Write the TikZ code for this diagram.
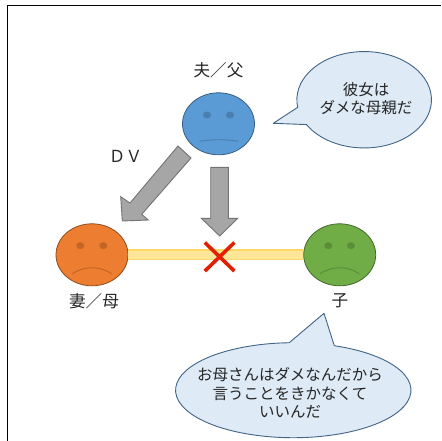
\documentclass[tikz,border=0pt]{standalone}
\usepackage{fontspec}
\setmainfont{Noto Sans CJK JP}
\usetikzlibrary{positioning,shapes.geometric,shapes.misc}
\definecolor{blueface}{RGB}{91,155,213}
\definecolor{orangeface}{RGB}{237,125,49}
\definecolor{greenface}{RGB}{112,173,71}
\definecolor{balloonfill}{RGB}{222,234,246}
\definecolor{balloonline}{RGB}{65,100,135}
\definecolor{bargold}{RGB}{255,217,102}
\definecolor{barfill}{RGB}{255,230,153}
\definecolor{crossred}{RGB}{224,32,0}
\tikzset{
    face/.style = {shape=ellipse, draw=#1!60!black, fill=#1, minimum width=72pt, minimum height=62pt, inner sep=0pt, line width=0.8pt},
    eye/.style = {shape=ellipse, fill=#1!82!black, minimum width=8pt, minimum height=7pt, inner sep=0pt},
    mouth/.style = {draw=#1!80!black, line width=0.9pt},
    nametag/.style = {font=\fontsize{16.6pt}{18pt}\selectfont, inner sep=0pt, text=black!85},
    balloon/.style = {draw=balloonline, fill=balloonfill, line width=0.9pt, line join=round},
    say/.style = {font=\fontsize{15.5pt}{18.7pt}\selectfont, align=center, inner sep=0pt, text=black!85},
    hitarrow/.style = {draw=black!55, fill=black!35, line width=0.9pt}
}
\begin{document}
\begin{tikzpicture}[x=1pt,y=-1pt]
    \useasboundingbox (0,0) rectangle (441,441);
    \draw[line width=1pt] (7,441) -- (7,5.5) -- (441,5.5);
    % faces
    \node[face=blueface] (father) at (218.5,123.8) {};
    \node[face=orangeface] (mother) at (92,254.8) {};
    \node[face=greenface] (child) at (339.7,254.8) {};
    \node[eye=blueface] (fathereyeL) at (207,115) {};
    \node[eye=blueface] (fathereyeR) at (230,115) {};
    \node[eye=orangeface] (mothereyeL) at (80.3,245.7) {};
    \node[eye=orangeface] (mothereyeR) at (103.3,245.7) {};
    \node[eye=greenface] (childeyeL) at (328.3,245.7) {};
    \node[eye=greenface] (childeyeR) at (351,245.7) {};
    \draw[mouth=blueface] (199.3,141.3) .. controls (212,139.2) and (225,139.2) .. (238,141.3);
    \draw[mouth=orangeface] (72.3,273.7) .. controls (85,265.7) and (99,265.7) .. (111.7,273.7);
    \draw[mouth=greenface] (320,273.7) .. controls (333,265.7) and (347,265.7) .. (359.3,273.7);
    % names
    \node[nametag, above=14pt of father] (fathername) {夫／父};
    \node[nametag] (mothername) at (94,301) {妻／母};
    \node[nametag] (childname) at (340,301) {子};
    \node[nametag] (dv) at (125.5,156) {ＤＶ};
    % bond between mother and child
    \draw[draw=bargold, double=barfill, line width=1.6pt, double distance=7.8pt] (mother) -- (child);
    \node[cross out, draw=crossred, line width=3.6pt, minimum width=26pt, minimum height=25pt, inner sep=0pt] (cut) at (219.6,256.8) {};
    % block arrows
    \draw[hitarrow] (178,146) -- (191,158) -- (141.7,214.3) -- (148.3,220) -- (122.3,221) -- (120.7,196.7) -- (130,203) -- cycle;
    \draw[hitarrow] (210.7,167.3) -- (228.3,167.3) -- (228.3,218.3) -- (237.7,218.3) -- (219.7,236) -- (201.3,218.3) -- (210.7,218.3) -- cycle;
    % balloons
    \draw[balloon] (297.7,107.3) arc[start angle=171, end angle=509, x radius=67.3, y radius=48.2] -- (273.3,123.3) -- cycle;
    \draw[balloon] (334.3,345.7) arc[start angle=290.4, end angle=628, x radius=117.7, y radius=47.5] -- (324,313.3) -- cycle;
    \node[say] (fathersay) at (366,98.5) {彼女は\\ダメな母親だ};
    \node[say] (childsay) at (290,393) {お母さんはダメなんだから\\言うことをきかなくて\\いいんだ};
\end{tikzpicture}
\end{document}
